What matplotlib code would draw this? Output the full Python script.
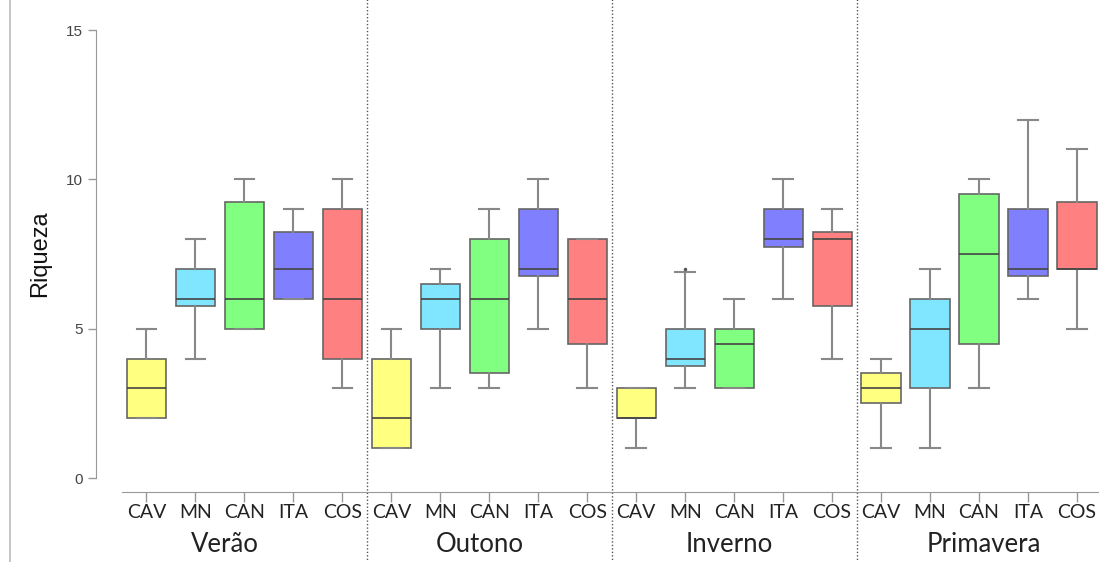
import matplotlib.pyplot as plt
import matplotlib.lines as mlines

# sites and seasons
sites = ['CAV', 'MN', 'CAN', 'ITA', 'COS']
seasons = ['Verão', 'Outono', 'Inverno', 'Primavera']
colors = ['#ffff80', '#80e5ff', '#80ff80', '#8080ff', '#ff8080']

# per season: whisker low, q1, median, q3, whisker high (one value per site)
verao_lo = [2, 4, 5, 6, 3]
verao_q1 = [2, 5.75, 5, 6, 4]
verao_med = [3, 6, 6, 7, 6]
verao_q3 = [4, 7, 9.25, 8.25, 9]
verao_hi = [5, 8, 10, 9, 10]

outono_lo = [1, 3, 3, 5, 3]
outono_q1 = [1, 5, 3.5, 6.75, 4.5]
outono_med = [2, 6, 6, 7, 6]
outono_q3 = [4, 6.5, 8, 9, 8]
outono_hi = [5, 7, 9, 10, 8]

inverno_lo = [1, 3, 3, 6, 4]
inverno_q1 = [2, 3.75, 3, 7.75, 5.75]
inverno_med = [2, 4, 4.5, 8, 8]
inverno_q3 = [3, 5, 5, 9, 8.25]
inverno_hi = [3, 6.9, 6, 10, 9]
inverno_fliers = [[], [7], [], [], []]

primavera_lo = [1, 1, 3, 6, 5]
primavera_q1 = [2.5, 3, 4.5, 6.75, 7]
primavera_med = [3, 5, 7.5, 7, 7]
primavera_q3 = [3.5, 6, 9.5, 9, 9.25]
primavera_hi = [4, 7, 10, 12, 11]

groups = [
    (verao_lo, verao_q1, verao_med, verao_q3, verao_hi, None),
    (outono_lo, outono_q1, outono_med, outono_q3, outono_hi, None),
    (inverno_lo, inverno_q1, inverno_med, inverno_q3, inverno_hi, inverno_fliers),
    (primavera_lo, primavera_q1, primavera_med, primavera_q3, primavera_hi, None),
]

fig = plt.figure(figsize=(10.99, 5.62), dpi=100)
ax = fig.add_axes([122 / 1099, 84 / 562, 1 - 122 / 1099, 448 / 562])

stats = []
box_colors = []
for lo, q1, med, q3, hi, fl in groups:
    for i in range(len(sites)):
        stats.append({'whislo': lo[i], 'q1': q1[i], 'med': med[i], 'q3': q3[i],
                      'whishi': hi[i], 'fliers': fl[i] if fl else []})
        box_colors.append(colors[i])

positions = list(range(1, len(stats) + 1))
bp = ax.bxp(stats, positions=positions, widths=0.8, capwidths=0.4,
            patch_artist=True, showfliers=True,
            boxprops=dict(edgecolor='#666666', linewidth=1.2),
            medianprops=dict(color='#444444', linewidth=1.2),
            whiskerprops=dict(color='#888888', linewidth=1.5),
            capprops=dict(color='#888888', linewidth=1.5),
            flierprops=dict(marker='o', markersize=1.5, markerfacecolor='#555555',
                            markeredgecolor='#555555'))
for patch, c in zip(bp['boxes'], box_colors):
    patch.set_facecolor(c)

ax.set_xlim(0.5, 20.45)
ax.set_ylim(0, 15)

for s in ['top', 'right']:
    ax.spines[s].set_visible(False)
ax.spines['left'].set_position(('outward', 19))
ax.spines['left'].set_bounds(0, 15)
ax.spines['bottom'].set_position(('outward', 10))
ax.spines['left'].set_color('#999999')
ax.spines['bottom'].set_color('#999999')

ax.set_yticks([0, 5, 10, 15])
ax.set_yticklabels(['0', '5', '10', '15'], fontfamily='Liberation Sans')
ax.tick_params(axis='y', colors='#999999', labelcolor='#444444', labelsize=11,
               length=6, width=1)
ax.set_xticks(positions)
ax.set_xticklabels(sites * len(seasons), fontfamily='Lato', fontsize=14,
                   color='#222222')
ax.tick_params(axis='x', colors='#999999', labelcolor='#222222', length=7, width=1,
               pad=2)

ax.set_ylabel('Riqueza', fontsize=17, color='#111111', fontfamily='Liberation Sans')
ax.yaxis.set_label_coords(-0.073, 0.5)

# season labels and dividers
label_shift = [-0.4, -0.2, -0.1, 0.1]
for k, name in enumerate(seasons):
    ax.text(3 + 5 * k + label_shift[k], -2.22, name, ha='center', va='center',
            fontsize=18.5, fontfamily='Lato', color='#222222')
for k in range(1, len(seasons)):
    ax.plot([5.5 + 5 * (k - 1), 5.5 + 5 * (k - 1)], [-2.85, 16.1], color='#555555',
            linestyle=(0, (1, 1.5)), linewidth=1, clip_on=False)

# frame edge on the left of the picture
fig.add_artist(mlines.Line2D([10 / 1099, 10 / 1099], [0, 1], color='#bbbbbb',
                             linewidth=1.2))

fig.savefig('out.png', dpi=100)
